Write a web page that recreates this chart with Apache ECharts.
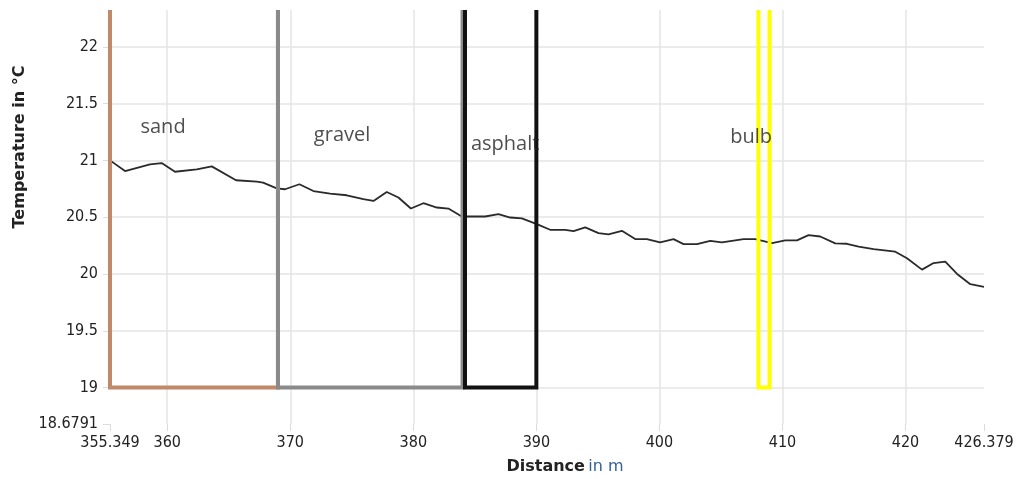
<!DOCTYPE html>
<html>
<head>
<meta charset="utf-8">
<script src="https://cdn.jsdelivr.net/npm/echarts@6/dist/echarts.min.js"></script>
<style>
html,body{margin:0;padding:0;background:#fff;}
#chart{width:1018px;height:479px;}
</style>
</head>
<body>
<div id="chart"></div>
<script>
// ---- data ----
const distance = [355.349, 356.57, 358.60, 359.55, 360.63, 362.40, 363.62, 365.59, 367.28, 367.79, 368.90, 369.58, 370.74, 371.88, 373.24, 374.59, 375.94, 376.76, 377.84, 378.79, 379.80, 380.82, 381.91, 382.85, 383.94, 385.84, 386.92, 387.87, 388.82, 390.04, 391.12, 392.34, 393.02, 393.97, 395.05, 395.86, 396.95, 398.03, 398.98, 400.06, 401.15, 401.96, 403.05, 404.13, 405.08, 406.84, 407.79, 409.15, 410.23, 411.18, 412.12, 413.07, 414.29, 415.24, 416.19, 417.41, 419.17, 420.12, 421.34, 422.28, 423.23, 424.19, 425.27, 426.379];
const temperature = [21.00, 20.906, 20.965, 20.976, 20.90, 20.92, 20.947, 20.825, 20.813, 20.804, 20.754, 20.746, 20.79, 20.73, 20.708, 20.693, 20.658, 20.643, 20.722, 20.673, 20.576, 20.623, 20.585, 20.576, 20.506, 20.506, 20.526, 20.497, 20.489, 20.439, 20.389, 20.389, 20.377, 20.41, 20.36, 20.348, 20.38, 20.307, 20.307, 20.278, 20.307, 20.263, 20.263, 20.292, 20.278, 20.307, 20.307, 20.272, 20.296, 20.296, 20.342, 20.33, 20.269, 20.266, 20.24, 20.219, 20.196, 20.138, 20.038, 20.096, 20.108, 20.0, 19.91, 19.886];

const xMin = 355.349, xMax = 426.379;
const yMin = 18.6791, yMax = 22.324;

const zoneNames = ['sand', 'gravel', 'asphalt', 'bulb'];
const zoneStart = [355.349, 369.0, 384.2, 408.05];
const zoneEnd   = [369.0, 384.0, 390.0, 408.95];
const zoneBase  = 19;
const zoneLabelX = [359.66, 374.21, 387.46, 407.46];
const zoneLabelY = [21.289, 21.219, 21.14, 21.20];

// ---- styles ----
const zoneColors = ['#c08a6a', '#8a8a8a', '#111111', '#ffff00'];
const zoneWidths = [4, 4, 4, 4];

const lineData = distance.map((d, i) => [d, temperature[i]]);

const zoneSeries = zoneNames.map((n, i) => ({
  type: 'line',
  name: n,
  data: [[zoneStart[i], yMax], [zoneStart[i], zoneBase], [zoneEnd[i], zoneBase], [zoneEnd[i], yMax]],
  symbol: 'none',
  silent: true,
  z: 3,
  lineStyle: { color: zoneColors[i], width: zoneWidths[i], join: 'miter', cap: 'butt' }
}));

const labelSeries = {
  type: 'scatter',
  symbolSize: 0,
  silent: true,
  z: 4,
  data: zoneNames.map((n, i) => ({ value: [zoneLabelX[i], zoneLabelY[i]], name: n })),
  label: {
    show: true,
    position: 'inside',
    formatter: p => p.name,
    fontFamily: 'Open Sans',
    fontSize: 20,
    color: '#222'
  }
};

const chart = echarts.init(document.getElementById('chart'));
chart.setOption({
  animation: false,
  grid: { left: 110, right: 34, top: 10, bottom: 55, containLabel: false },
  xAxis: {
    type: 'value',
    min: xMin, max: xMax,
    splitNumber: 7,
    axisLine: { show: false },
    axisTick: { show: true, length: 7, lineStyle: { color: '#dcdcdc' } },
    axisLabel: { color: '#222', fontFamily: 'DejaVu Sans Condensed', fontSize: 16, margin: 11, showMinLabel: true, showMaxLabel: true },
    splitLine: { show: true, showMinLine: false, showMaxLine: false, lineStyle: { color: '#e4e4e4', width: 1.5 } }
  },
  yAxis: {
    type: 'value',
    min: yMin, max: yMax,
    splitNumber: 7,
    axisLine: { show: false },
    axisTick: { show: true, length: 7, lineStyle: { color: '#dcdcdc' } },
    axisLabel: { color: '#222', fontFamily: 'DejaVu Sans Condensed', fontSize: 16, margin: 12, showMinLabel: true, showMaxLabel: false },
    splitLine: { show: true, showMinLine: false, showMaxLine: false, lineStyle: { color: '#e4e4e4', width: 1.5 } }
  },
  graphic: [
    {
      type: 'text',
      x: 20, y: 147,
      rotation: Math.PI / 2,
      style: {
        text: 'Temperature in °C',
        font: 'bold 16px "DejaVu Sans"',
        fill: '#222',
        align: 'center',
        verticalAlign: 'middle'
      }
    },
    {
      type: 'text',
      x: 565, y: 467,
      style: {
        text: '{a|Distance} {b|in m}',
        align: 'center',
        verticalAlign: 'middle',
        rich: {
          a: { font: 'bold 16px "DejaVu Sans"', fill: '#222' },
          b: { font: '16px "DejaVu Sans"', fill: '#35609a' }
        }
      }
    }
  ],
  series: [
    {
      type: 'line',
      data: lineData,
      symbol: 'none',
      z: 2,
      lineStyle: { color: '#2a2a2a', width: 1.8 }
    },
    ...zoneSeries,
    labelSeries
  ]
});
</script>
</body>
</html>
